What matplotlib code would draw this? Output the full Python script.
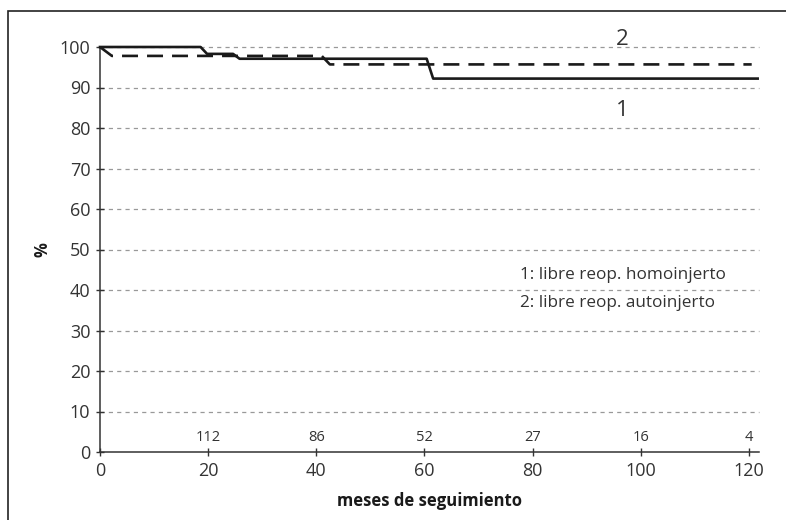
import matplotlib
matplotlib.use("Agg")
import matplotlib.pyplot as plt
from matplotlib.patches import Rectangle

plt.rcParams['font.family'] = ['Open Sans', 'DejaVu Sans']
plt.rcParams['lines.scale_dashes'] = False

# curve 1: libre reop. homoinjerto (solid)
months_1 = [0, 18.6, 19.8, 24.6, 25.8, 60.4, 61.6, 121.6]
surv_1 = [100, 100, 98.3, 98.3, 97.1, 97.1, 92.2, 92.2]

# curve 2: libre reop. autoinjerto (dashed)
months_2 = [0, 2.2, 41.0, 42.5, 120.5]
surv_2 = [100, 97.8, 97.8, 95.7, 95.7]

# patients at risk
risk_months = [20, 40, 60, 80, 100, 120]
risk_counts = [112, 86, 52, 27, 16, 4]

xticks = [0, 20, 40, 60, 80, 100, 120]
yticks = list(range(0, 101, 10))

txt = '#333333'

fig = plt.figure(figsize=(7.86, 5.20), dpi=100)
ax = fig.add_axes([100 / 786, 68 / 520, 659 / 786, 405 / 520])

# outer frame
fig.patches.append(Rectangle((8 / 786, -0.1), 1.2, 1 - 11 / 520 + 0.1,
                             transform=fig.transFigure, fill=False,
                             ec='#222222', lw=1.2))

for y in yticks[1:]:
    ax.axhline(y, color='#999999', lw=0.9, ls=(0, (3, 3)), zorder=1, clip_on=False)

ax.plot(months_1, surv_1, color='#1a1a1a', lw=1.9, zorder=3, clip_on=False)
ax.plot(months_2, surv_2, color='#1a1a1a', lw=1.9, ls=(0, (11.5, 6.5)),
        zorder=3, clip_on=False)

for m, n in zip(risk_months, risk_counts):
    ax.text(m, 3.7, str(n), ha='center', va='center', fontsize=10.5, color=txt)

ax.text(96.6, 101.8, '2', ha='center', va='center', fontsize=16, color=txt)
ax.text(96.6, 84.3, '1', ha='center', va='center', fontsize=16, color=txt)
ax.text(77.6, 43.7, '1: libre reop. homoinjerto', ha='left', va='center',
        fontsize=12.3, color=txt)
ax.text(77.6, 36.8, '2: libre reop. autoinjerto', ha='left', va='center',
        fontsize=12.3, color=txt)

ax.set_xlim(0, 121.85)
ax.set_ylim(0, 100)
ax.set_xticks(xticks)
ax.set_yticks(yticks)
ax.tick_params(direction='inout', length=6, width=1, colors='#333333',
               labelsize=13, labelcolor=txt)
ax.tick_params(axis='x', pad=4)
ax.tick_params(axis='y', pad=4)
for s in ['top', 'right']:
    ax.spines[s].set_visible(False)
for s in ['left', 'bottom']:
    ax.spines[s].set_color('#333333')
    ax.spines[s].set_linewidth(1.1)

ax.set_xlabel('meses de seguimiento', fontsize=12, fontweight='bold',
              color='#1a1a1a', labelpad=9)
ax.set_ylabel('%', fontsize=12, fontweight='bold', color='#1a1a1a', labelpad=6)

fig.savefig('out.png', dpi=100)
